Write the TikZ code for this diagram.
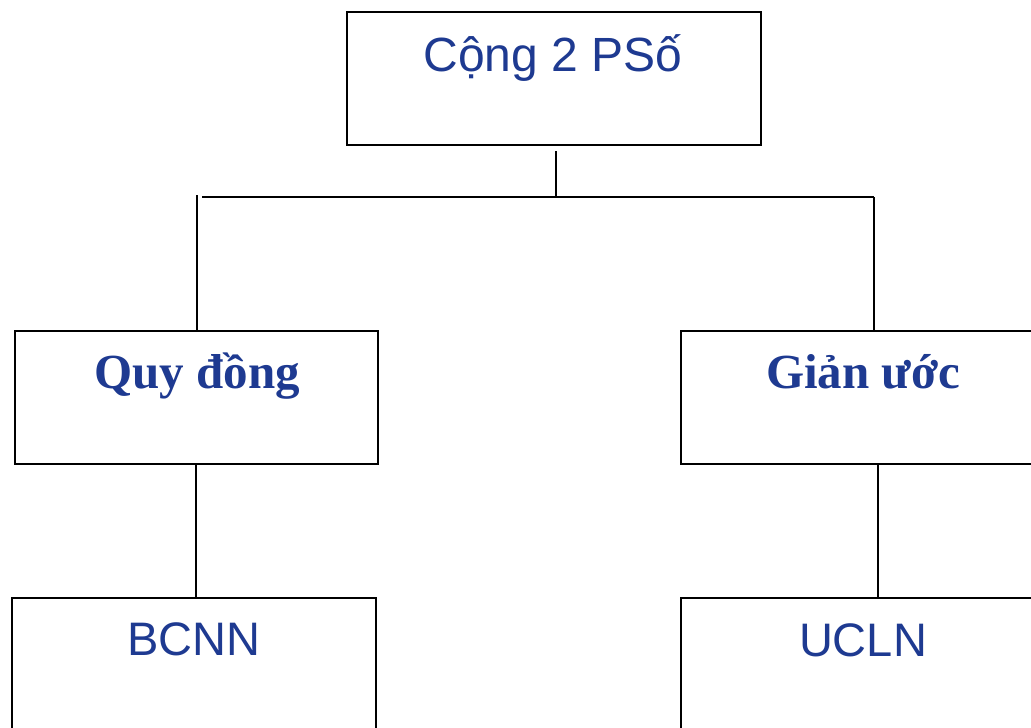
\documentclass[tikz,border=0pt]{standalone}
\usepackage{fontspec}
\setmainfont{Liberation Serif}
\setsansfont{Liberation Sans}
\definecolor{labelblue}{RGB}{30,58,145}
\begin{document}
\begin{tikzpicture}[x=1pt,y=-1pt,
  box/.style={draw=black, line width=2pt, fill=white, inner sep=0pt, minimum height=133pt},
  link/.style={draw=black, line width=2pt},
  sanslbl/.style={anchor=base, inner sep=0pt, text=labelblue, font=\sffamily\fontsize{47}{56}\selectfont},
  boldlbl/.style={anchor=base, inner sep=0pt, text=labelblue, font=\bfseries\fontsize{49}{58}\selectfont}]
  \path[use as bounding box, clip] (0,0) rectangle (1031,728);

  % boxes
  \node[box, minimum width=414pt] (top)  at (554,78.5) {};
  \node[box, minimum width=363pt] (qd)   at (196.5,397.5) {};
  \node[box, minimum width=363pt] (gu)   at (862.5,397.5) {};
  \node[box, minimum width=364pt] (bcnn) at (194,664.5) {};
  \node[box, minimum width=363pt] (ucln) at (862.5,664.5) {};

  % labels
  \node[sanslbl, font=\sffamily\fontsize{48}{56}\selectfont] (ttop) at (553,71) {Cộng 2 PSố};
  \node[boldlbl] (tqd) at (197,388) {Quy đồng};
  \node[boldlbl] (tgu) at (863,388) {Giản ước};
  \node[sanslbl] (tbcnn) at (194,655) {BCNN};
  \node[sanslbl] (tucln) at (863,656) {UCLN};

  % branching connectors
  \coordinate (stem) at (556,197);
  \coordinate (hl) at (202,197);
  \coordinate (hr) at (874,197);
  \coordinate (ql) at (197,195);
  \draw[link] ([yshift=-5pt]top.south -| stem) -- (stem);
  \draw[link] (hl) -- (hr);
  \draw[link] (ql) -- (ql |- qd.north);
  \draw[link] (hr) -- ([yshift=-2pt]hr |- gu.north);
  \draw[link] ([xshift=-0.5pt]qd.south) -- ([xshift=-0.5pt,yshift=-2pt]qd.south |- bcnn.north);
  \draw[link] ([xshift=15.5pt]gu.south) -- ([xshift=15.5pt,yshift=-2pt]gu.south |- ucln.north);
\end{tikzpicture}
\end{document}
